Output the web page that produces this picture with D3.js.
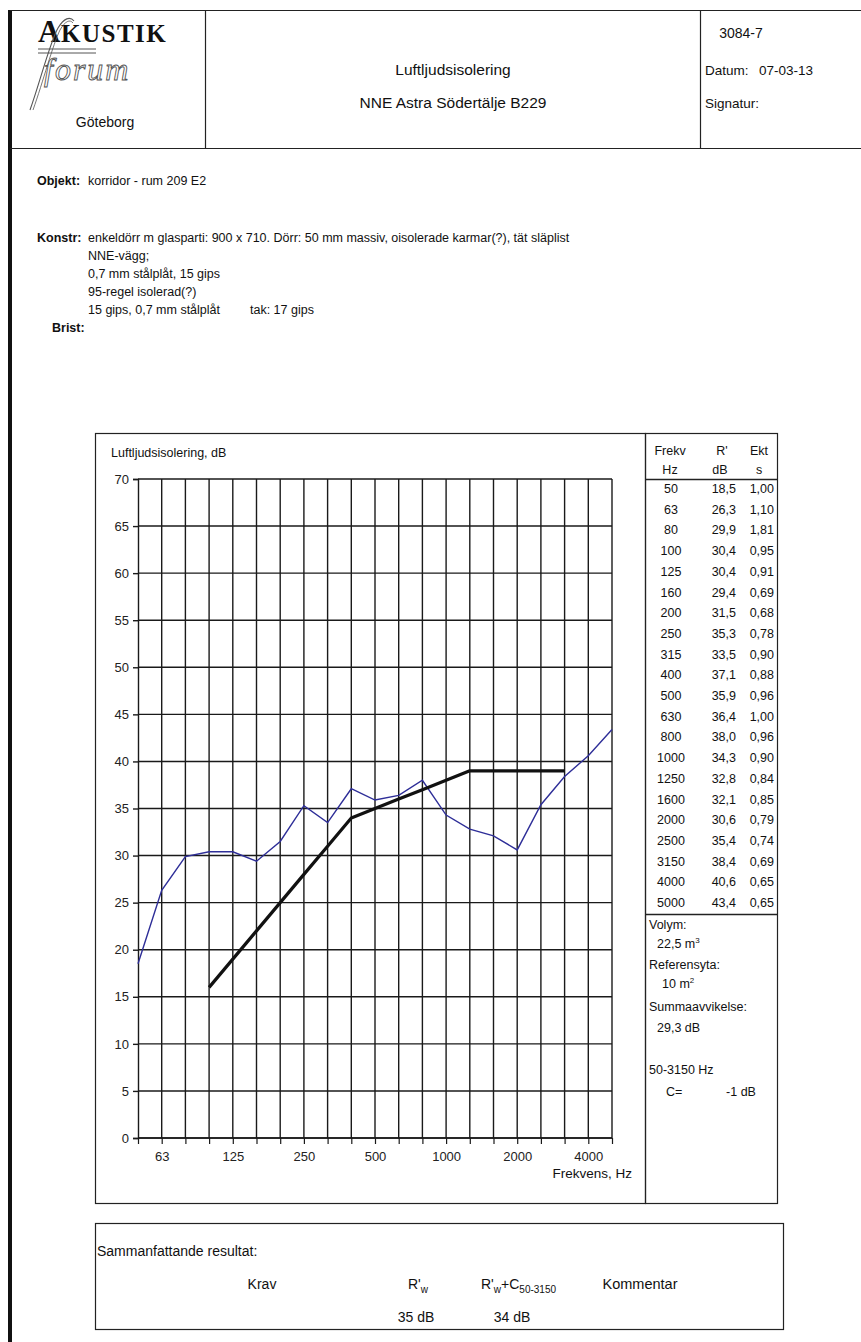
<!DOCTYPE html>
<html><head><meta charset="utf-8">
<script src="https://cdn.jsdelivr.net/npm/d3@7/dist/d3.min.js"></script>
<style>
body{margin:0;background:#fff;}
svg{display:block;font-family:"Liberation Sans",Arial,sans-serif;}
</style></head>
<body>
<svg id="c" width="861" height="1342"></svg>
<script>
// ---- Data ----
const freqs = [50,63,80,100,125,160,200,250,315,400,500,630,800,1000,1250,1600,2000,2500,3150,4000,5000];
const rValues = [18.5,26.3,29.9,30.4,30.4,29.4,31.5,35.3,33.5,37.1,35.9,36.4,38.0,34.3,32.8,32.1,30.6,35.4,38.4,40.6,43.4];
const ektValues = ["1,00","1,10","1,81","0,95","0,91","0,69","0,68","0,78","0,90","0,88","0,96","1,00","0,96","0,90","0,84","0,85","0,79","0,74","0,69","0,65","0,65"];
const refFreqs = [100,125,160,200,250,315,400,500,630,800,1000,1250,1600,2000,2500,3150];
const refValues = [16,19,22,25,28,31,34,35,36,37,38,39,39,39,39,39];
const xLabelFreqs = [63,125,250,500,1000,2000,4000];
const yTicks = [0,5,10,15,20,25,30,35,40,45,50,55,60,65,70];

const svg = d3.select("#c");
const F = "Liberation Sans, Arial, sans-serif";

function txt(x,y,s,opt={}){
  const t = svg.append("text").attr("x",x).attr("y",y)
    .attr("font-size",opt.size||11).attr("fill",opt.fill||"#111")
    .attr("text-anchor",opt.anchor||"start");
  if(opt.bold) t.attr("font-weight","bold");
  t.text(s);
  return t;
}
function line(x1,y1,x2,y2,w=1,c="#222"){
  svg.append("line").attr("x1",x1).attr("y1",y1).attr("x2",x2).attr("y2",y2)
    .attr("stroke",c).attr("stroke-width",w);
}

// ---- Page frame / header ----
svg.append("rect").attr("x",8).attr("y",10).attr("width",4).attr("height",1332).attr("fill","#111");
line(10,10.5,861,10.5,1.2);
line(10,148.5,861,148.5,1.2);
line(205.5,10,205.5,148,1.2);
line(700.5,10,700.5,148,1.2);

// logo
svg.append("text").attr("x",38).attr("y",42).attr("font-family","Liberation Serif, Times New Roman, serif")
  .attr("font-weight","bold").attr("font-size",31).attr("fill","#111").text("A");
svg.append("text").attr("x",61).attr("y",42).attr("font-family","Liberation Serif, Times New Roman, serif")
  .attr("font-weight","bold").attr("font-size",25).attr("letter-spacing",1.5).attr("fill","#111").text("KUSTIK");
svg.append("text").attr("x",44).attr("y",80).attr("font-family","Liberation Serif, Times New Roman, serif")
  .attr("font-style","italic").attr("font-size",32).attr("fill","none").attr("stroke","#555").attr("stroke-width",0.9)
  .attr("letter-spacing",2).text("forum");
svg.append("path").attr("d","M30,110 C40,82 50,42 58,28 C64,18 70,16 74,21")
  .attr("fill","none").attr("stroke","#555").attr("stroke-width",1.1);
svg.append("path").attr("d","M33,110 C43,82 53,44 60,30 C65,21 70,19 73,23")
  .attr("fill","none").attr("stroke","#555").attr("stroke-width",0.8);
line(38,49,96,49,1,"#555");
line(38,53,96,53,1,"#555");
txt(105,127,"Göteborg",{size:14,anchor:"middle"});

txt(453,75,"Luftljudsisolering",{size:15.5,anchor:"middle"});
txt(453,108,"NNE Astra Södertälje B229",{size:15.5,anchor:"middle"});
txt(741,38,"3084-7",{size:14,anchor:"middle"});
txt(705,75,"Datum:",{size:13.5});
txt(813,75,"07-03-13",{size:13.5,anchor:"end"});
txt(705,108,"Signatur:",{size:13.5});

// ---- Description ----
txt(37,185,"Objekt:",{size:12.5,bold:true});
txt(88,185,"korridor - rum 209 E2",{size:12.5});
txt(37,242,"Konstr:",{size:12.5,bold:true});
const konstr = ["enkeldörr m glasparti: 900 x 710. Dörr: 50 mm massiv, oisolerade karmar(?), tät släplist",
  "NNE-vägg;","0,7 mm stålplåt, 15 gips","95-regel isolerad(?)","15 gips, 0,7 mm stålplåt"];
konstr.forEach((s,i)=>txt(88,242+i*18,s,{size:12.5}));
txt(250,314,"tak: 17 gips",{size:12.5});
txt(52,332,"Brist:",{size:12.5,bold:true});

// ---- Chart frame ----
svg.append("rect").attr("x",95.5).attr("y",433.5).attr("width",550).attr("height",770)
  .attr("fill","none").attr("stroke","#222").attr("stroke-width",1.2);
svg.append("rect").attr("x",645.5).attr("y",433.5).attr("width",132).attr("height",770)
  .attr("fill","none").attr("stroke","#222").attr("stroke-width",1.2);

const x = d3.scalePoint().domain(freqs).range([138,612]);
const y = d3.scaleLinear().domain([0,70]).range([1138,479]);

// grid
const g = svg.append("g");
g.selectAll(".hg").data(yTicks).join("line")
  .attr("x1",138).attr("x2",612).attr("y1",d=>y(d)).attr("y2",d=>y(d))
  .attr("stroke","#1a1a1a").attr("stroke-width",1.4);
g.selectAll(".vg").data(freqs.slice(1)).join("line")
  .attr("x1",d=>x(d)).attr("x2",d=>x(d)).attr("y1",y(70)).attr("y2",y(0))
  .attr("stroke","#1a1a1a").attr("stroke-width",1.4);

// y axis
const ya = svg.append("g").attr("transform","translate(138,0)")
  .call(d3.axisLeft(y).tickValues(yTicks).tickSize(5).tickPadding(4).tickFormat(d3.format("d")));
ya.select(".domain").attr("stroke","#1a1a1a").attr("stroke-width",1.4);
ya.selectAll(".tick line").attr("stroke","#1a1a1a").attr("stroke-width",1.4);
ya.selectAll(".tick text").attr("font-family",F).attr("font-size",13).attr("fill","#222");

// x axis
const xa = svg.append("g").attr("transform",`translate(0,${y(0)})`)
  .call(d3.axisBottom(x).tickSize(6).tickPadding(8).tickFormat(d=>xLabelFreqs.includes(d)?d:""));
xa.select(".domain").attr("stroke","#1a1a1a").attr("stroke-width",1.4).attr("d","M138,0H612");
xa.selectAll(".tick line").attr("stroke","#1a1a1a").attr("stroke-width",1.2);
xa.selectAll(".tick text").attr("font-family",F).attr("font-size",13).attr("fill","#222");
txt(632,1178,"Frekvens, Hz",{size:13.5,anchor:"end"});
txt(111,457,"Luftljudsisolering, dB",{size:12.5});

// lines
const lg = d3.line().x(d=>x(d[0])).y(d=>y(d[1]));
svg.append("path").datum(freqs.map((f,i)=>[f,rValues[i]])).attr("d",lg)
  .attr("fill","none").attr("stroke","#2e2e98").attr("stroke-width",1.4);
svg.append("path").datum(refFreqs.map((f,i)=>[f,refValues[i]])).attr("d",lg)
  .attr("fill","none").attr("stroke","#111").attr("stroke-width",3.2).attr("stroke-linejoin","round");

// ---- Table ----
txt(670,455,"Frekv",{size:12.5,anchor:"middle"});
txt(722,455,"R'",{size:12.5,anchor:"middle"});
txt(759,455,"Ekt",{size:12.5,anchor:"middle"});
txt(670,474,"Hz",{size:12.5,anchor:"middle"});
txt(720,474,"dB",{size:12.5,anchor:"middle"});
txt(759,474,"s",{size:12.5,anchor:"middle"});
line(645,479.5,778,479.5,1.4);
const fmt = v=>v.toFixed(1).replace(".",",");
freqs.forEach((f,i)=>{
  const yy = 493 + i*20.7;
  txt(671,yy,String(f),{size:12.5,anchor:"middle"});
  txt(736,yy,fmt(rValues[i]),{size:12.5,anchor:"end"});
  txt(774,yy,ektValues[i],{size:12.5,anchor:"end"});
});
line(645,914.5,778,914.5,1.4);
txt(649,929,"Volym:",{size:12.5});
svg.append("text").attr("x",657).attr("y",948).attr("font-size",12.5).attr("fill","#111")
  .html(`22,5 m<tspan font-size="8" dy="-5">3</tspan>`);
txt(649,969,"Referensyta:",{size:12.5});
svg.append("text").attr("x",662).attr("y",988).attr("font-size",12.5).attr("fill","#111")
  .html(`10 m<tspan font-size="8" dy="-5">2</tspan>`);
txt(649,1011,"Summaavvikelse:",{size:12.5});
txt(657,1032,"29,3 dB",{size:12.5});
txt(649,1074,"50-3150 Hz",{size:12.5});
txt(666,1096,"C=",{size:12.5});
txt(741,1096,"-1 dB",{size:12.5,anchor:"middle"});

// ---- Summary ----
svg.append("rect").attr("x",95.5).attr("y",1223.5).attr("width",688).attr("height",106)
  .attr("fill","none").attr("stroke","#222").attr("stroke-width",1.2);
txt(97,1256,"Sammanfattande resultat:",{size:14});
txt(262,1289,"Krav",{size:14,anchor:"middle"});
svg.append("text").attr("x",408).attr("y",1289).attr("font-size",14).attr("fill","#111")
  .html(`R'<tspan font-size="10" dy="4">w</tspan>`);
svg.append("text").attr("x",481).attr("y",1289).attr("font-size",14).attr("fill","#111")
  .html(`R'<tspan font-size="10" dy="4">w</tspan><tspan dy="-4">+C</tspan><tspan font-size="10" dy="4">50-3150</tspan>`);
txt(640,1289,"Kommentar",{size:14.5,anchor:"middle"});
txt(416,1322,"35 dB",{size:14,anchor:"middle"});
txt(512,1322,"34 dB",{size:14,anchor:"middle"});
</script>
</body></html>
